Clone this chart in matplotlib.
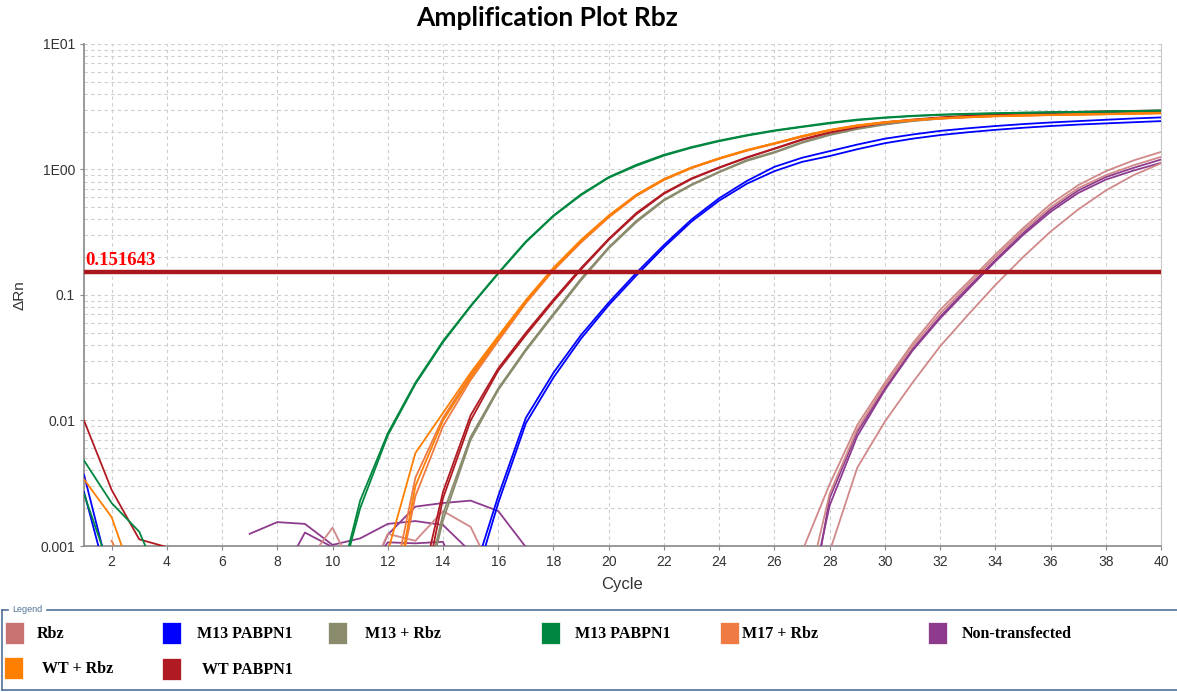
import numpy as np
import matplotlib
matplotlib.use("Agg")
import matplotlib.pyplot as plt
from matplotlib.patches import Rectangle
from matplotlib.lines import Line2D
from matplotlib.ticker import FixedLocator, FixedFormatter, LogLocator, NullFormatter

nan = np.nan
cycles = np.arange(1, 41)

# delta Rn per cycle, one list per well (nan = not drawn)
green_a = [0.0048, 0.0022, 0.0013, 0.0004, nan, nan, nan, nan, nan, 0.0003,
           0.0023, 0.0079, 0.020, 0.043, 0.082, 0.150, 0.267, 0.43, 0.635, 0.87,
           1.09, 1.31, 1.51, 1.70, 1.88, 2.05, 2.20, 2.36, 2.50, 2.60,
           2.68, 2.74, 2.78, 2.81, 2.84, 2.86, 2.88, 2.90, 2.93, 2.96]
green_b = [0.0026, 0.0006, nan, nan, nan, nan, nan, nan, nan, 0.0003,
           0.0020, 0.0076, 0.0195, 0.042, 0.081, 0.148, 0.263, 0.425, 0.625, 0.86,
           1.07, 1.29, 1.49, 1.68, 1.86, 2.03, 2.18, 2.33, 2.47, 2.58,
           2.66, 2.72, 2.76, 2.80, 2.83, 2.85, 2.87, 2.89, 2.92, 2.94]
orange_a = [0.0034, 0.0017, 0.0004, nan, nan, nan, nan, nan, nan, nan,
            nan, 0.0009, 0.0055, 0.0115, 0.024, 0.047, 0.091, 0.165, 0.275, 0.43,
            0.63, 0.84, 1.04, 1.23, 1.43, 1.62, 1.85, 2.07, 2.25, 2.39,
            2.48, 2.56, 2.62, 2.67, 2.70, 2.72, 2.75, 2.77, 2.80, 2.82]
orange_b = [nan, nan, nan, nan, nan, nan, nan, nan, nan, nan,
            nan, 0.0002, 0.0030, 0.0100, 0.022, 0.045, 0.088, 0.160, 0.268, 0.42,
            0.62, 0.83, 1.03, 1.22, 1.42, 1.61, 1.83, 2.05, 2.23, 2.37,
            2.47, 2.55, 2.61, 2.66, 2.69, 2.72, 2.74, 2.76, 2.79, 2.81]
m17_a = [nan, 0.0011, 0.0004, nan, nan, nan, nan, nan, nan, nan,
         nan, 0.0003, 0.0035, 0.0105, 0.023, 0.046, 0.089, 0.162, 0.27, 0.425,
         0.625, 0.835, 1.035, 1.225, 1.425, 1.615, 1.84, 2.06, 2.24, 2.38,
         2.475, 2.555, 2.615, 2.665, 2.695, 2.72, 2.745, 2.765, 2.795, 2.815]
m17_b = [nan, nan, nan, nan, nan, nan, nan, nan, nan, nan,
         nan, 0.0002, 0.0025, 0.0090, 0.021, 0.043, 0.086, 0.157, 0.262, 0.415,
         0.615, 0.825, 1.025, 1.215, 1.41, 1.60, 1.82, 2.04, 2.22, 2.36,
         2.46, 2.54, 2.60, 2.65, 2.68, 2.71, 2.73, 2.75, 2.78, 2.80]
red_a = [0.0100, 0.0028, 0.00113, 0.00098, 0.0004, nan, nan, nan, nan, nan,
         nan, nan, 0.0003, 0.0027, 0.011, 0.026, 0.050, 0.092, 0.164, 0.28,
         0.45, 0.65, 0.85, 1.04, 1.25, 1.47, 1.74, 1.98, 2.19, 2.38,
         2.50, 2.60, 2.68, 2.75, 2.80, 2.85, 2.88, 2.91, 2.93, 2.95]
red_b = [nan, nan, nan, nan, nan, nan, nan, nan, nan, nan,
         nan, nan, 0.0002, 0.0024, 0.010, 0.025, 0.048, 0.089, 0.160, 0.275,
         0.44, 0.64, 0.84, 1.03, 1.24, 1.46, 1.72, 1.96, 2.17, 2.36,
         2.48, 2.58, 2.66, 2.73, 2.78, 2.83, 2.86, 2.89, 2.91, 2.93]
gray_a = [nan, nan, nan, nan, nan, nan, nan, nan, nan, nan,
          nan, nan, 0.0002, 0.0018, 0.0074, 0.018, 0.037, 0.071, 0.135, 0.24,
          0.39, 0.575, 0.76, 0.96, 1.19, 1.38, 1.65, 1.90, 2.12, 2.30,
          2.45, 2.56, 2.64, 2.70, 2.74, 2.78, 2.80, 2.82, 2.84, 2.85]
gray_b = [nan, nan, nan, nan, nan, nan, nan, nan, nan, nan,
          nan, nan, 0.0002, 0.0016, 0.0070, 0.0175, 0.036, 0.069, 0.131, 0.235,
          0.38, 0.565, 0.75, 0.95, 1.17, 1.36, 1.63, 1.88, 2.10, 2.28,
          2.43, 2.54, 2.62, 2.68, 2.72, 2.76, 2.78, 2.80, 2.82, 2.83]
blue_a = [0.0037, 0.0005, nan, nan, nan, nan, nan, nan, nan, nan,
          nan, nan, nan, nan, 0.0005, 0.0025, 0.0105, 0.024, 0.048, 0.087,
          0.15, 0.25, 0.40, 0.59, 0.81, 1.05, 1.24, 1.40, 1.58, 1.76,
          1.90, 2.03, 2.13, 2.22, 2.30, 2.37, 2.43, 2.49, 2.55, 2.60]
blue_b = [0.0027, 0.0004, nan, nan, nan, nan, nan, nan, nan, nan,
          nan, nan, nan, nan, 0.0004, 0.0022, 0.0095, 0.022, 0.045, 0.083,
          0.143, 0.24, 0.385, 0.565, 0.77, 0.97, 1.15, 1.28, 1.45, 1.62,
          1.76, 1.88, 1.98, 2.07, 2.15, 2.22, 2.28, 2.33, 2.38, 2.43]
rbz_a = [nan, nan, nan, nan, nan, nan, nan, nan, 0.0007, 0.0014,
         0.0005, nan, nan, nan, nan, nan, nan, nan, nan, nan,
         nan, nan, nan, nan, nan, nan, 0.0009, 0.0031, 0.0092, 0.020,
         0.041, 0.076, 0.126, 0.21, 0.34, 0.53, 0.75, 0.97, 1.18, 1.38]
rbz_b = [nan, nan, nan, nan, nan, nan, nan, nan, nan, nan,
         0.0004, 0.00125, 0.0011, 0.0019, 0.00142, 0.0005, nan, nan, nan, nan,
         nan, nan, nan, nan, nan, nan, 0.0003, 0.0026, 0.0085, 0.019,
         0.039, 0.071, 0.120, 0.20, 0.325, 0.50, 0.71, 0.90, 1.08, 1.26]
rbz_c = [nan, nan, nan, nan, nan, nan, nan, nan, nan, nan,
         nan, nan, nan, nan, nan, nan, nan, nan, nan, nan,
         nan, nan, nan, nan, nan, nan, 0.0001, 0.0009, 0.0042, 0.0098,
         0.020, 0.039, 0.069, 0.12, 0.20, 0.32, 0.48, 0.68, 0.90, 1.12]
nt_a = [nan, nan, nan, nan, nan, nan, 0.00125, 0.00155, 0.0015, 0.00102,
        0.00115, 0.0015, 0.00158, 0.00147, 0.0009, 0.0004, nan, nan, nan, nan,
        nan, nan, nan, nan, nan, nan, 0.00013, 0.0024, 0.0081, 0.018,
        0.037, 0.067, 0.114, 0.19, 0.31, 0.48, 0.68, 0.87, 1.03, 1.20]
nt_b = [nan, nan, nan, nan, nan, nan, nan, 0.0005, 0.00128, 0.00098,
        0.0004, 0.00123, 0.00206, 0.0022, 0.0023, 0.0019, 0.00098, 0.0004, nan, nan,
        nan, nan, nan, nan, nan, nan, 0.0002, 0.0021, 0.0075, 0.0175,
        0.036, 0.065, 0.110, 0.185, 0.30, 0.46, 0.65, 0.83, 0.98, 1.13]
nt_c = [nan, nan, nan, nan, nan, nan, nan, nan, nan, nan,
        0.0005, 0.00107, 0.00105, 0.00108, 0.0003, nan, nan, nan, nan, nan,
        nan, nan, nan, nan, nan, nan, nan, nan, nan, nan,
        nan, nan, nan, nan, nan, nan, nan, nan, nan, nan]

threshold = 0.151643

legend_labels = ["Rbz", "M13 PABPN1", "M13 + Rbz", "M13 PABPN1", "M17 + Rbz",
                 "Non-transfected", "WT + Rbz", "WT PABPN1"]
legend_colors = ["#C87272", "#0000FF", "#8A8A6C", "#00873F", "#EF7A43",
                 "#8E3B8E", "#FF7F00", "#B01A22"]

wells = [
    (nt_a, "#8E3B8E"), (nt_b, "#8E3B8E"), (nt_c, "#8E3B8E"),
    (rbz_a, "#D08888"), (rbz_b, "#D08888"), (rbz_c, "#D08888"),
    (blue_a, "#0000FF"), (blue_b, "#0000FF"),
    (gray_a, "#8A8A6C"), (gray_b, "#8A8A6C"),
    (red_a, "#B01A22"), (red_b, "#B01A22"),
    (m17_a, "#EF7A43"), (m17_b, "#EF7A43"),
    (orange_a, "#FF7F00"), (orange_b, "#FF7F00"),
    (green_a, "#00873F"), (green_b, "#00873F"),
]

W, H = 1177, 692
fig = plt.figure(figsize=(W / 100, H / 100), dpi=100)
ax = fig.add_axes([84 / W, 1 - 546 / H, (1161 - 84) / W, (546 - 44) / H])

for vals, col in wells:
    ax.plot(cycles, vals, color=col, lw=1.3, zorder=3)

ax.axhline(threshold, color="#A8171E", lw=3.2, zorder=5)
ax.text(1.05, threshold * 1.06, "0.151643", color="#FF0000", fontsize=13.5,
        fontweight="bold", family="Liberation Serif", va="bottom", ha="left", zorder=6)

ax.set_yscale("log")
ax.set_xlim(1, 40)
ax.set_ylim(0.001, 10)
ax.set_xticks(np.arange(2, 41, 2))
ax.yaxis.set_major_locator(FixedLocator([0.001, 0.01, 0.1, 1, 10]))
ax.yaxis.set_major_formatter(FixedFormatter(["0.001", "0.01", "0.1", "1E00", "1E01"]))
ax.yaxis.set_minor_locator(LogLocator(base=10, subs=np.arange(2, 10)))
ax.yaxis.set_minor_formatter(NullFormatter())

grid_kw = dict(color="#CDCDCD", lw=0.8, linestyle=(0, (3, 3)))
ax.grid(True, which="major", axis="both", **grid_kw)
ax.grid(True, which="minor", axis="y", **grid_kw)
ax.set_axisbelow(True)

for s in ["left", "bottom"]:
    ax.spines[s].set_color("#888888")
    ax.spines[s].set_linewidth(1.2)
ax.spines["top"].set_visible(False)
ax.spines["right"].set_color("#C8C8C8")
ax.tick_params(axis="both", which="major", length=3, color="#888888",
               labelcolor="#333333", labelsize=10)
ax.tick_params(axis="y", which="minor", length=0)
for lab in ax.get_xticklabels() + ax.get_yticklabels():
    lab.set_family("Liberation Sans")

ax.set_xlabel("Cycle", fontsize=12, family="Liberation Sans", color="#333333", labelpad=6)
ax.set_ylabel("ΔRn", fontsize=11, family="Liberation Sans", color="#333333", labelpad=10)

fig.text(547 / W, 1 - 18 / H, "Amplification Plot Rbz", ha="center", va="center",
         fontsize=19, fontweight="bold", family="Lato")

# legend panel
def fx(x):
    return x / W

def fy(y):
    return 1 - y / H

frame_col = "#4F7396"
fig.add_artist(Line2D([fx(2), fx(8)], [fy(610), fy(610)], color=frame_col, lw=1.2))
fig.add_artist(Line2D([fx(47), fx(W)], [fy(610), fy(610)], color=frame_col, lw=1.2))
fig.add_artist(Line2D([fx(2), fx(2)], [fy(610), fy(690)], color=frame_col, lw=1.2))
fig.add_artist(Line2D([fx(2), fx(W)], [fy(690), fy(690)], color=frame_col, lw=1.2))
fig.text(fx(12), fy(609), "Legend", color=frame_col, fontsize=6.5,
         family="Liberation Sans", va="center", ha="left")

sq_x = [5, 162, 328, 541, 720, 928, 4, 162]
sq_y = [622, 622, 622, 622, 622, 622, 657, 658]
tx_x = [37, 197, 365, 575, 742, 962, 42, 202]
for i, lab in enumerate(legend_labels):
    fig.add_artist(Rectangle((fx(sq_x[i]), fy(sq_y[i] + 22)), 19 / W, 22 / H,
                             facecolor=legend_colors[i], edgecolor="white", lw=0.5,
                             transform=fig.transFigure))
    fig.text(fx(tx_x[i]), fy(sq_y[i] + 12), lab, fontsize=11.5, fontweight="bold",
             family="Liberation Serif", va="center", ha="left")

fig.savefig("out.png", dpi=100)
